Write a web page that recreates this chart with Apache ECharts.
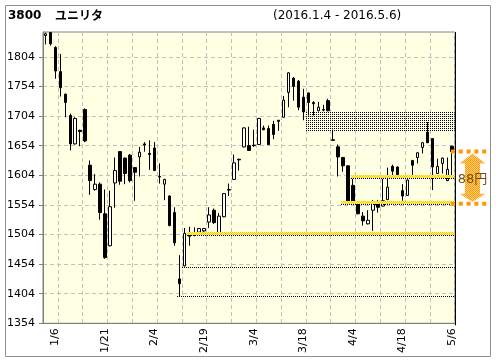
<!DOCTYPE html>
<html><head><meta charset="utf-8">
<script src="https://cdn.jsdelivr.net/npm/echarts/dist/echarts.min.js"></script>
<style>html,body{margin:0;padding:0;background:#fff}#c{width:496px;height:364px}</style>
</head><body><div id="c"></div><script>
// ---- data ----
const dates = ['1/4','1/5','1/6','1/7','1/8','1/12','1/13','1/14','1/15','1/18','1/19','1/20','1/21','1/22','1/25','1/26','1/27','1/28','1/29',
'2/1','2/2','2/3','2/4','2/5','2/8','2/9','2/10','2/12','2/15','2/16','2/17','2/18','2/19','2/22','2/23','2/24','2/25','2/26','2/29',
'3/1','3/2','3/3','3/4','3/7','3/8','3/9','3/10','3/11','3/14','3/15','3/16','3/17','3/18','3/22','3/23','3/24','3/25','3/28','3/29','3/30','3/31',
'4/1','4/4','4/5','4/6','4/7','4/8','4/11','4/12','4/13','4/14','4/15','4/18','4/19','4/20','4/21','4/22','4/25','4/26','4/27','4/28',
'5/2','5/6'];
const tickLabels = ['1/6','1/21','2/4','2/19','3/4','3/18','4/4','4/18','5/6'];
const opens  = [1840,1845,1820,1779,1741,1705,1657,1680,1715,1621,1580,1589,1539,1485,1591,1644,1633,1638,1617,
1635,1657,1641,1650,1602,1589,1569,1541,1429,1451,1503,1505,1508,1510,1525,1545,1504,1534,1580,1597,
1631,1652,1654,1655,1656,1684,1683,1690,1697,1702,1744,1768,1763,1736,1743,1727,1713,1715,1730,1664,1652,1634,
1620,1587,1555,1535,1522,1545,1557,1552,1563,1619,1618,1578,1570,1629,1634,1651,1677,1666,1607,1624,
1595,1653];
const highs  = [1845,1846,1822,1809,1742,1708,1702,1681,1717,1629,1606,1592,1580,1578,1634,1645,1634,1640,1618,
1652,1660,1663,1660,1624,1598,1570,1550,1469,1515,1517,1516,1515,1515,1550,1548,1540,1574,1590,1639,
1632,1685,1686,1681,1701,1688,1688,1696,1697,1738,1778,1770,1765,1750,1744,1729,1728,1723,1733,1681,1656,1635,
1621,1598,1556,1542,1545,1562,1562,1598,1617,1622,1619,1589,1597,1630,1643,1660,1694,1667,1632,1634,
1634,1654];
const lows   = [1825,1823,1767,1737,1702,1646,1656,1653,1660,1571,1578,1529,1463,1484,1549,1588,1589,1592,1561,
1602,1644,1613,1612,1590,1562,1518,1485,1400,1450,1485,1501,1505,1503,1515,1522,1503,1533,1569,1596,
1612,1651,1645,1652,1655,1680,1655,1665,1679,1701,1719,1730,1714,1697,1705,1705,1712,1712,1712,1663,1602,1610,
1557,1557,1538,1519,1521,1510,1541,1551,1562,1603,1603,1561,1569,1604,1624,1641,1659,1579,1606,1607,
1594,1600];
const closes = [1843,1826,1780,1752,1727,1657,1700,1678,1662,1595,1589,1541,1465,1551,1612,1594,1607,1595,1609,
1643,1655,1639,1612,1601,1597,1519,1490,1421,1506,1501,1503,1514,1514,1537,1524,1535,1573,1579,1625,
1630,1684,1646,1654,1700,1681,1656,1673,1695,1731,1777,1754,1719,1711,1727,1725,1719,1714,1713,1663,1635,1620,
1558,1558,1539,1527,1528,1557,1550,1561,1584,1611,1605,1569,1596,1621,1642,1659,1659,1618,1619,1633,
1614,1644];
// support lines (plain dotted) and highlighted (yellow) lines, with start day index
const plainLevels = [1400, 1449];
const plainStarts = [27, 28];
const yellowLevels = [1503, 1556, 1599];
const yellowStarts = [29, 60, 62];
// resistance zone
const zoneStart = 53, zoneLow = 1678, zoneHigh = 1713;
const yMin = 1354, yMax = 1846, yStep = 50;

function makePattern(w, h, cells) {
  const c = document.createElement('canvas'); c.width = w; c.height = h;
  const g = c.getContext('2d');
  cells.forEach(([x, y, col]) => { g.fillStyle = col; g.fillRect(x, y, 1, 1); });
  return { image: c, repeat: 'repeat' };
}
const dotPattern = makePattern(2, 2, [[0, 0, '#000']]);
const yellowPattern = makePattern(2, 2, [[0,0,'#ffcc00'],[1,1,'#ffcc00'],[1,0,'#fff080'],[0,1,'#fff080']]);
const orangePattern = makePattern(2, 2, [[0,0,'#ff9900'],[1,1,'#ff9900'],[1,0,'#ffd080'],[0,1,'#ffd080']]);

const chart = echarts.init(document.getElementById('c'), null, { renderer: 'canvas' });
const FONT = "'DejaVu Sans', Verdana, sans-serif";

const lineData = plainLevels.map((v, i) => [plainStarts[i], v, 0])
  .concat(yellowLevels.map((v, i) => [yellowStarts[i], v, 1]));

const arrowTop = closes[closes.length - 1];
const arrowBottom = yellowLevels[1];

const option = {
  animation: false,
  backgroundColor: '#fff',
  grid: { left: 43, right: 41.3, top: 32, bottom: 40.7, show: true,
    backgroundColor: '#ffffe4', borderColor: '#808080', borderWidth: 1 },
  xAxis: {
    type: 'category', data: dates, boundaryGap: true,
    axisLine: { lineStyle: { color: '#808080' } },
    axisTick: { length: 4, interval: (i) => i % 5 === 3, lineStyle: { color: '#808080' } },
    axisLabel: { interval: (i, v) => tickLabels.includes(v), rotate: 90, fontSize: 11,
      fontFamily: FONT, color: '#000', margin: 5 },
    splitLine: { show: true, interval: (i) => i % 5 === 3,
      lineStyle: { color: '#c0c0c0', type: [4, 3] } }
  },
  yAxis: {
    type: 'value', min: yMin, max: yMax, interval: yStep, scale: true,
    axisLine: { show: true, lineStyle: { color: '#808080' } },
    axisTick: { show: true, length: 4, lineStyle: { color: '#808080' } },
    axisLabel: { color: '#000', fontSize: 11, fontFamily: FONT, margin: 8, showMaxLabel: false,
      formatter: (v) => String(v) },
    splitLine: { lineStyle: { color: '#c0c0c0', type: [4, 3] } }
  },
  series: [
    { // zone
      type: 'custom', clip: false, silent: true, z: 1,
      data: [[zoneStart, zoneHigh, zoneLow]],
      renderItem: (params, api) => {
        const cs = params.coordSys;
        const bw = api.size([1, 0])[0];
        const p1 = api.coord([api.value(0), api.value(1)]);
        const p2 = api.coord([api.value(0), api.value(2)]);
        const x0 = Math.round(p1[0] - bw / 2);
        return { type: 'rect', shape: { x: x0, y: Math.round(p1[1]), width: cs.x + cs.width - x0, height: Math.round(p2[1]) - Math.round(p1[1]) },
          style: { fill: dotPattern } };
      }
    },
    {
      type: 'candlestick', z: 3,
      data: dates.map((d, i) => [opens[i], closes[i], lows[i], highs[i]]),
      barWidth: 3,
      itemStyle: { color: '#fff', color0: '#000', borderColor: '#000', borderColor0: '#000', borderColorDoji: '#000', borderWidth: 1 }
    },
    { // level lines
      type: 'custom', clip: false, silent: true, z: 4,
      data: lineData,
      renderItem: (params, api) => {
        const cs = params.coordSys;
        const bw = api.size([1, 0])[0];
        const p = api.coord([api.value(0), api.value(1)]);
        const x0 = Math.round(p[0] - bw / 2), x1 = cs.x + cs.width;
        const yy = Math.round(p[1]);
        const ch = [];
        if (api.value(2) === 1) ch.push({ type: 'rect', shape: { x: x0, y: yy - 3, width: x1 - x0, height: 3 }, style: { fill: yellowPattern } });
        ch.push({ type: 'line', shape: { x1: x0, y1: yy + 0.5, x2: x1, y2: yy + 0.5 }, style: { stroke: '#000', lineWidth: 1, lineDash: [1, 1] } });
        return { type: 'group', children: ch };
      }
    },
    { // right marker line and difference arrow
      type: 'custom', clip: false, silent: true, z: 5,
      data: [[dates.length - 1, arrowTop, arrowBottom]],
      renderItem: (params, api) => {
        const cs = params.coordSys;
        const xr = Math.round(cs.x + cs.width) + 0.5;
        const yT = api.coord([api.value(0), api.value(1)])[1];
        const yB = api.coord([api.value(0), api.value(2)])[1];
        const cx = xr + 17;
        const hw = 13, sw = 7.5;
        const pts = [[cx, yT + 2], [cx + hw, yT + 12], [cx + sw, yT + 12], [cx + sw, yB - 10], [cx + hw, yB - 10], [cx, yB - 2],
          [cx - hw, yB - 10], [cx - sw, yB - 10], [cx - sw, yT + 12], [cx - hw, yT + 12]];
        const diff = Math.round(api.value(1) - api.value(2));
        return { type: 'group', children: [
          { type: 'line', shape: { x1: xr, y1: cs.y, x2: xr, y2: cs.y + cs.height + 2 }, style: { stroke: '#000', lineWidth: 1 } },
          { type: 'polygon', shape: { points: pts }, style: { fill: orangePattern } },
          { type: 'line', shape: { x1: xr - 4.5, y1: yT, x2: xr + 32, y2: yT }, style: { stroke: '#ff9900', lineWidth: 4, lineDash: [4, 3.8] } },
          { type: 'line', shape: { x1: xr - 4.5, y1: yB, x2: xr + 32, y2: yB }, style: { stroke: '#ff9900', lineWidth: 4, lineDash: [4, 3.8] } },
          { type: 'text', style: { x: cx, y: (yT + yB) / 2 + 2, text: diff + '円', fill: '#6a5010',
            font: "13px 'DejaVu Sans', 'Noto Sans CJK JP', sans-serif", align: 'center', verticalAlign: 'middle' } }
        ] };
      }
    }
  ],
  graphic: [
    { type: 'rect', shape: { x: 5.5, y: 5.5, width: 485, height: 351 }, style: { fill: null, stroke: '#909090', lineWidth: 1 }, silent: true, z: -1 },
    { type: 'text', left: 8, top: 10, style: { text: '3800', font: "bold 12px 'DejaVu Sans', sans-serif", fill: '#000' } },
    { type: 'text', left: 55, top: 9, style: { text: 'ユニリタ', font: "bold 12px 'Noto Sans CJK JP', sans-serif", fill: '#000' } },
    { type: 'text', left: 273, top: 10, style: { text: '(2016.1.4 - 2016.5.6)', font: "12px 'DejaVu Sans', sans-serif", fill: '#000' } }
  ]
};
chart.setOption(option);
</script></body></html>
